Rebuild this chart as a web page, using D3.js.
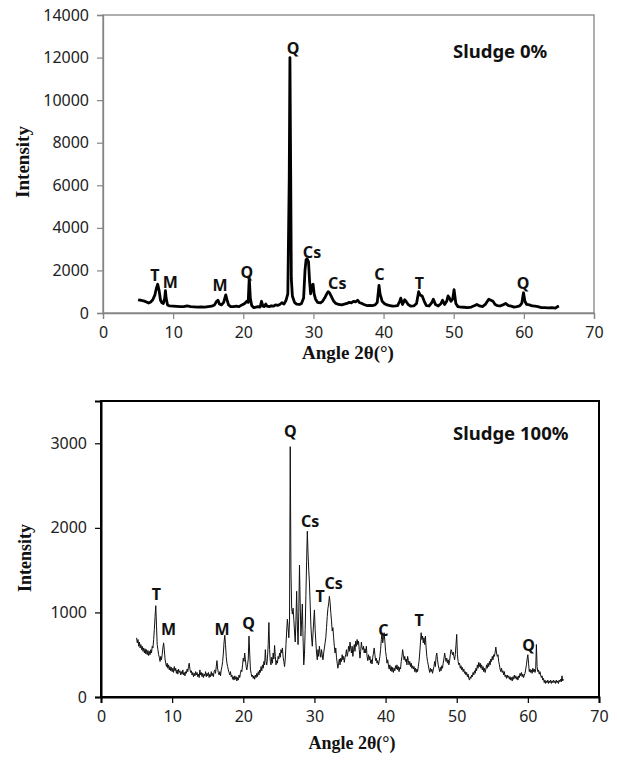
<!DOCTYPE html>
<html>
<head>
<meta charset="utf-8">
<script src="https://cdn.jsdelivr.net/npm/d3@7/dist/d3.min.js"></script>
<style>
  html, body { margin: 0; padding: 0; background: #fff; }
  svg { display: block; }
  .tick text { font-family: "Noto Sans", "Open Sans", sans-serif; font-size: 16px; fill: #222; }
  .axis-title { font-family: "Liberation Serif", "Times New Roman", serif; font-weight: bold; fill: #111; }
  .peak { font-family: "Noto Sans", "Open Sans", sans-serif; font-weight: bold; font-size: 16px; fill: #111; }
  .panel-title { font-family: "Noto Sans", "Open Sans", sans-serif; font-weight: bold; font-size: 18.5px; fill: #111; }
</style>
</head>
<body>
<svg id="chart" width="617" height="764"></svg>
<script>
// X-ray diffraction patterns of the two mixes (2θ in degrees, counts)
const xTicks = [0, 10, 20, 30, 40, 50, 60, 70];
const topYTicks = [0, 2000, 4000, 6000, 8000, 10000, 12000, 14000];
const bottomYTicks = [0, 1000, 2000, 3000];

// Sludge 0% pattern: [2θ, intensity]
const sludge0 = [
  [5.0,620],[5.3,600],[5.6,580],[5.9,560],[6.2,520],[6.5,470],[6.8,520],[7.1,620],[7.4,850],[7.6,1150],
  [7.8,1350],[8.0,1050],[8.2,600],[8.4,480],[8.6,450],[8.8,700],[8.9,1050],[9.0,700],[9.2,380],[9.5,330],
  [10.0,320],[10.5,310],[11.0,300],[11.5,300],[12.0,330],[12.5,300],[13.0,290],[13.5,280],[14.0,290],[14.5,280],
  [15.0,300],[15.5,320],[15.9,380],[16.2,550],[16.4,600],[16.6,420],[16.9,380],[17.2,500],[17.5,850],[17.7,600],
  [17.9,380],[18.2,300],[18.6,300],[19.0,320],[19.4,300],[19.8,380],[20.2,450],[20.5,550],[20.7,500],[20.85,1650],
  [21.0,700],[21.2,350],[21.5,250],[21.8,280],[22.1,300],[22.4,280],[22.6,550],[22.8,320],[23.0,300],[23.2,420],
  [23.4,320],[23.7,300],[24.0,340],[24.3,320],[24.6,380],[24.9,360],[25.2,400],[25.5,480],[25.8,420],[26.1,600],
  [26.35,900],[26.55,6300],[26.65,12000],[26.75,6900],[26.85,1600],[27.0,800],[27.3,500],[27.6,420],[28.0,400],[28.3,450],
  [28.6,700],[28.8,2000],[28.95,2500],[29.1,2550],[29.3,2400],[29.45,1500],[29.6,900],[29.8,1300],[29.95,1350],[30.1,900],
  [30.3,650],[30.6,500],[31.0,480],[31.3,550],[31.6,700],[31.9,900],[32.1,1000],[32.3,950],[32.6,750],[32.9,550],
  [33.2,450],[33.6,400],[34.0,380],[34.4,420],[34.8,450],[35.1,500],[35.4,480],[35.7,550],[36.0,520],[36.3,600],
  [36.6,480],[36.9,450],[37.2,400],[37.6,350],[38.0,360],[38.4,350],[38.8,380],[39.1,500],[39.35,1300],[39.5,900],
  [39.8,550],[40.1,450],[40.5,380],[40.9,350],[41.3,320],[41.7,330],[42.0,350],[42.3,550],[42.45,700],[42.7,400],
  [43.0,620],[43.2,550],[43.5,400],[43.9,320],[44.3,330],[44.7,450],[45.0,1000],[45.2,850],[45.5,800],[45.8,550],
  [46.1,350],[46.5,330],[46.9,500],[47.1,650],[47.4,400],[47.8,330],[48.2,450],[48.4,600],[48.7,400],[49.0,550],
  [49.2,800],[49.4,700],[49.6,550],[49.85,650],[50.05,1100],[50.3,450],[50.6,300],[51.0,280],[51.5,270],[52.0,250],
  [52.5,280],[53.0,350],[53.3,400],[53.7,330],[54.1,300],[54.5,400],[54.8,550],[55.0,650],[55.3,600],[55.6,550],
  [55.9,400],[56.2,350],[56.6,330],[57.0,380],[57.4,450],[57.8,350],[58.2,320],[58.6,280],[59.0,300],[59.4,330],
  [59.7,450],[59.95,950],[60.15,550],[60.4,400],[60.8,380],[61.2,330],[61.6,320],[62.0,300],[62.5,250],[63.0,250],
  [63.5,240],[64.0,250],[64.5,230],[64.8,300],[65.0,330]
];

// Sludge 100% pattern: scan from 5° to 65° in 0.1° steps, one row per degree
const sludge100Start = 5.0;
const sludge100Step = 0.1;
const sludge100 = [
  700,640,680,600,650,580,620,560,600,540,
  580,520,570,510,560,500,550,490,540,500,
  560,520,600,580,680,800,950,1080,850,620,
  560,500,470,420,480,440,500,580,640,560,
  450,400,360,400,340,380,320,360,310,350,
  300,340,290,360,310,340,280,320,270,330,
  290,310,260,300,270,320,260,290,250,300,
  280,330,300,360,400,330,290,310,260,290,
  240,280,250,300,260,290,240,270,230,320,
  260,290,240,280,230,270,250,300,240,280,
  250,290,230,270,240,300,250,280,240,300,
  320,280,360,430,330,290,260,300,250,320,
  360,420,520,650,730,620,480,400,360,320,
  290,260,300,240,260,210,240,200,250,210,
  240,190,230,200,260,230,280,320,300,380,
  460,420,520,440,360,320,380,450,720,520,
  330,280,240,260,220,250,210,260,230,280,
  240,300,260,320,290,360,310,380,340,420,
  380,560,420,380,460,620,880,560,420,380,
  470,400,520,450,610,480,380,430,400,480,
  450,520,470,560,520,580,470,420,360,450,
  620,780,920,820,700,900,2960,1500,1050,980,
  1050,920,780,650,900,1250,850,620,1000,1560,
  1100,720,900,1100,700,380,500,800,1200,1600,
  1960,1700,1500,1350,1100,850,700,600,750,900,
  1030,800,650,520,440,560,480,600,520,470,
  560,500,440,520,580,640,700,820,950,1050,
  1100,1190,1120,1000,900,780,820,700,600,520,
  580,470,400,340,400,450,380,460,420,500,
  440,480,410,470,500,560,480,520,600,540,
  650,580,520,600,480,560,620,540,660,600,
  680,620,660,560,460,540,650,580,560,600,
  520,570,520,600,480,430,500,440,480,400,
  440,390,470,520,580,500,430,460,400,430,
  380,420,480,560,680,760,640,700,760,660,
  540,480,400,440,380,330,380,310,360,300,
  350,290,340,310,370,330,380,320,360,300,
  350,330,420,480,560,500,440,480,420,450,
  380,480,430,380,420,360,400,340,370,330,
  360,300,340,290,330,300,360,420,520,640,
  760,680,720,640,700,620,720,580,480,420,
  380,330,290,340,300,330,280,320,360,420,
  360,480,520,440,380,340,300,350,310,370,
  340,400,450,520,470,420,460,400,440,380,
  430,500,560,540,500,530,480,440,500,620,
  740,500,420,380,400,340,370,320,350,300,
  330,280,300,260,290,240,270,220,200,240,
  220,260,240,290,260,310,280,340,310,380,
  340,410,360,400,340,380,320,360,300,340,
  290,330,380,340,400,360,420,380,450,420,
  480,440,500,480,530,590,520,480,500,420,
  380,330,300,340,290,310,260,300,240,260,
  220,260,230,250,210,240,200,230,190,240,
  210,260,220,250,210,240,200,250,230,280,
  250,290,240,270,230,260,280,330,380,450,
  500,400,300,330,290,320,280,340,300,330,
  290,320,620,360,300,320,270,300,260,230,
  250,200,220,170,200,160,190,170,200,160,
  190,170,200,160,190,170,200,170,190,160,
  200,170,190,160,200,180,210,180,250,190,
  210
];

// Phase labels: [text, 2θ, intensity at label centre]
const peaks0 = [
  ["T", 7.4, 1790], ["M", 9.6, 1460], ["M", 16.7, 1320], ["Q", 20.5, 1940],
  ["Q", 27.1, 12450], ["Cs", 29.8, 2870], ["Cs", 33.4, 1410], ["C", 39.4, 1830],
  ["T", 45.1, 1410], ["Q", 59.9, 1410]
];
const peaks100 = [
  ["T", 7.8, 1220], ["M", 9.5, 800], ["M", 17.0, 800], ["Q", 20.75, 870],
  ["Q", 26.6, 3140], ["Cs", 29.4, 2080], ["T", 30.8, 1200], ["Cs", 32.7, 1350],
  ["C", 39.7, 790], ["T", 44.7, 910], ["Q", 60.1, 615]
];

const svg = d3.select("#chart");

function drawPanel(opt) {
  const x = d3.scaleLinear().domain([0, 70]).range([opt.left, opt.right]);
  const y = d3.scaleLinear().domain([0, opt.yMax]).range([opt.bottom, opt.top]);
  const g = svg.append("g");

  // frame
  g.append("rect")
    .attr("x", opt.left).attr("y", opt.top)
    .attr("width", opt.right - opt.left).attr("height", opt.bottom - opt.top)
    .attr("fill", "none").attr("stroke", opt.frameColor).attr("stroke-width", opt.frameWidth);

  const xa = g.append("g").attr("transform", `translate(0,${opt.bottom})`)
    .call(d3.axisBottom(x).tickValues(xTicks).tickSize(6).tickPadding(8).tickFormat(d3.format("d")));
  const ya = g.append("g").attr("transform", `translate(${opt.left},0)`)
    .call(d3.axisLeft(y).tickValues(opt.yTicks).tickSize(6).tickPadding(8).tickFormat(d3.format("d")));
  [xa, ya].forEach(a => {
    a.select(".domain").attr("stroke", opt.frameColor).attr("stroke-width", opt.frameWidth);
    a.selectAll(".tick line").attr("stroke", opt.frameColor).attr("stroke-width", 1.2);
  });

  // diffraction trace
  const line = d3.line().x(d => x(d[0])).y(d => y(d[1]));
  g.append("path").datum(opt.data)
    .attr("fill", "none").attr("stroke", opt.lineColor)
    .attr("stroke-width", opt.lineWidth).attr("stroke-linejoin", "round")
    .attr("d", line);

  // phase labels
  g.selectAll("text.peak").data(opt.peaks).join("text")
    .attr("class", "peak")
    .attr("x", d => x(d[1])).attr("y", d => y(d[2]))
    .attr("text-anchor", "middle").attr("dominant-baseline", "central")
    .text(d => d[0]);

  g.append("text").attr("class", "panel-title")
    .attr("x", opt.titleX).attr("y", opt.titleY).attr("dominant-baseline", "central")
    .text(opt.title);

  g.append("text").attr("class", "axis-title")
    .attr("transform", `translate(${opt.yTitleX},${(opt.top + opt.bottom) / 2 + opt.yTitleShift}) rotate(-90)`)
    .attr("text-anchor", "middle").attr("dominant-baseline", "central")
    .style("font-size", opt.titleSize + "px")
    .text("Intensity");

  g.append("text").attr("class", "axis-title")
    .attr("x", opt.xTitleX).attr("y", opt.xTitleY)
    .attr("text-anchor", "middle").attr("dominant-baseline", "central")
    .style("font-size", opt.titleSize + "px")
    .text("Angle 2θ(°)");
}

drawPanel({
  left: 103, right: 594, top: 15, bottom: 313, yMax: 14000, yTicks: topYTicks,
  data: sludge0, peaks: peaks0, title: "Sludge 0%", titleX: 453, titleY: 50,
  frameColor: "#858585", frameWidth: 1.3, lineColor: "#000", lineWidth: 2.8,
  yTitleX: 22, yTitleShift: -2, xTitleX: 348, xTitleY: 352, titleSize: 19
});

const bottomData = sludge100.map((v, i) => [sludge100Start + i * sludge100Step, v]);
drawPanel({
  left: 101, right: 599, top: 401, bottom: 697, yMax: 3500, yTicks: bottomYTicks,
  data: bottomData, peaks: peaks100, title: "Sludge 100%", titleX: 453, titleY: 432,
  frameColor: "#000", frameWidth: 2, lineColor: "#111", lineWidth: 1,
  yTitleX: 25, yTitleShift: 9, xTitleX: 352, xTitleY: 743, titleSize: 18
});
</script>
</body>
</html>
